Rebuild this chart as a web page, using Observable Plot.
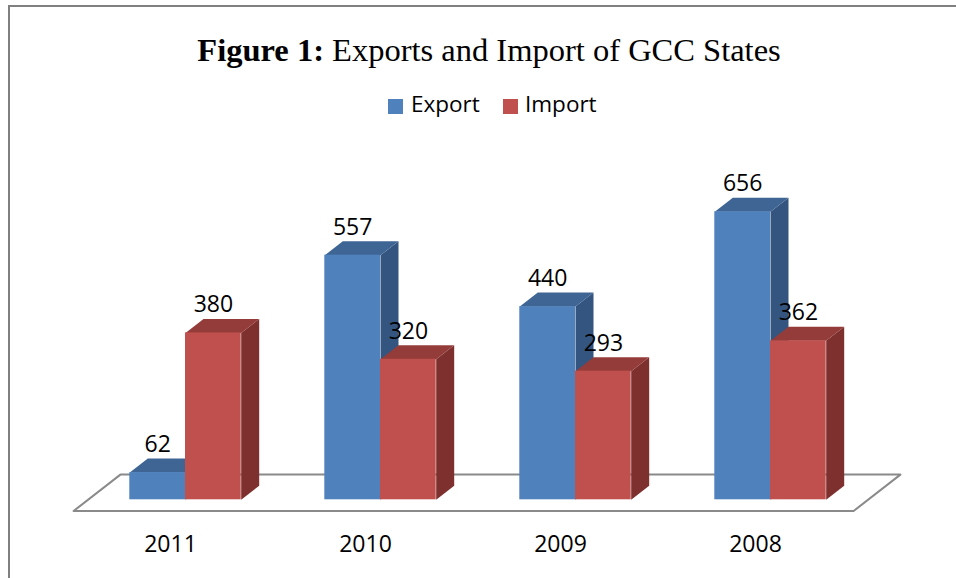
<!DOCTYPE html>
<html>
<head>
<meta charset="utf-8">
<script src="https://cdn.jsdelivr.net/npm/d3@7"></script>
<script src="https://cdn.jsdelivr.net/npm/@observablehq/plot@0.6"></script>
<style>
  html, body { margin: 0; padding: 0; background: #fff; }
  #wrap { position: relative; width: 956px; height: 578px; overflow: hidden; background: #fff; }
  #frame { position: absolute; left: 8px; top: 5px; right: -20px; bottom: -20px;
           border-left: 2px solid #808080; border-top: 2px solid #808080; }
  #title { position: absolute; left: 22px; width: 934px; top: 34px; text-align: center;
           font-family: "Liberation Serif", "Times New Roman", serif; font-size: 32.5px; line-height: 1; color: #000; white-space: nowrap; }
  .sw { position: absolute; top: 99px; width: 15px; height: 15px; }
  .lg { position: absolute; top: 93px; font-family: "Open Sans", sans-serif; font-size: 22.5px; line-height: 1; color: #000; white-space: nowrap; }
  #chart { position: absolute; left: 0; top: 130px; }
</style>
</head>
<body>
<div id="wrap">
  <div id="frame"></div>
  <div id="title"><b>Figure 1:</b> Exports and Import of GCC States</div>
  <div class="sw" style="left:388px;background:#4F81BD"></div>
  <div class="lg" style="left:411px">Export</div>
  <div class="sw" style="left:503px;background:#C0504D"></div>
  <div class="lg" style="left:525px">Import</div>
  <div id="chart"></div>
</div>
<script>
// ---- data ----
const years = ["2011", "2010", "2009", "2008"];
const seriesNames = ["Export", "Import"];
const exportValues = [62, 557, 440, 656];
const importValues = [380, 320, 293, 362];

// ---- styling / layout ----
const W = 956, H = 448;
const marginTop = 61.9, marginBottom = 78.7, marginLeft = 87.5, marginRight = 88.5;
const yMax = 700;
const barW = 0.2856;                 // bar width in category units
const depthX = 18 / 195;             // 3D depth offset (category units)
const depthY = 14 * yMax / (H - marginTop - marginBottom); // 3D depth offset (value units)
const colors = {
  Export: {front: "#4F81BD", top: "#3E6594", side: "#34557F"},
  Import: {front: "#C0504D", top: "#943C3A", side: "#7D302E"}
};

const rows = years.flatMap((year, i) => [
  {year, i, series: "Export", value: exportValues[i], x1: i - barW, x2: i},
  {year, i, series: "Import", value: importValues[i], x1: i, x2: i + barW}
]);

function poly(face) {
  return rows.flatMap((d, k) => {
    const v = d.value;
    const pts = face === "top"
      ? [[d.x1, v], [d.x2, v], [d.x2 + depthX, v + depthY], [d.x1 + depthX, v + depthY], [d.x1, v]]
      : [[d.x2, 0], [d.x2, v], [d.x2 + depthX, v + depthY], [d.x2 + depthX, depthY], [d.x2, 0]];
    return pts.map(([x, y]) => ({id: face + k, series: d.series, x, y}));
  });
}
const tops = poly("top");
const sides = poly("side");

const x0 = -0.5, x1 = years.length - 0.5;
const floor = [
  [x0 - 0.8 * depthX, -0.8 * depthY],
  [x1 - 0.8 * depthX, -0.8 * depthY],
  [x1 + 1.8 * depthX, 1.8 * depthY],
  [x0 + 1.8 * depthX, 1.8 * depthY],
  [x0 - 0.8 * depthX, -0.8 * depthY]
].map(([x, y]) => ({x, y}));

const marks = [
  Plot.line(floor, {x: "x", y: "y", fill: "#fff", stroke: "#8a8a8a", strokeWidth: 2, curve: "linear"})
];
for (const s of seriesNames) {
  marks.push(
    Plot.line(sides.filter(d => d.series === s), {x: "x", y: "y", z: "id", fill: colors[s].side, stroke: "none", curve: "linear"}),
    Plot.line(tops.filter(d => d.series === s), {x: "x", y: "y", z: "id", fill: colors[s].top, stroke: "none", curve: "linear"}),
    Plot.rect(rows.filter(d => d.series === s), {x1: "x1", x2: "x2", y1: 0, y2: "value", fill: colors[s].front})
  );
}
marks.push(
  Plot.text(rows, {x: d => (d.x1 + d.x2) / 2, y: "value", text: d => String(d.value), dy: -28, fill: "#000", fontSize: 23}),
  Plot.axisX({ticks: years.map((_, i) => i), tickFormat: i => years[i], tickSize: 0, tickPadding: 35.5, dx: -15, fontSize: 23, label: null})
);

const chart = Plot.plot({
  width: W, height: H,
  marginTop, marginBottom, marginLeft, marginRight,
  style: {fontFamily: "'Open Sans', sans-serif", fontSize: "23px", background: "transparent", overflow: "visible", color: "#000"},
  x: {domain: [x0, x1]},
  y: {domain: [0, yMax], axis: null},
  marks
});
document.getElementById("chart").appendChild(chart);
</script>
</body>
</html>
